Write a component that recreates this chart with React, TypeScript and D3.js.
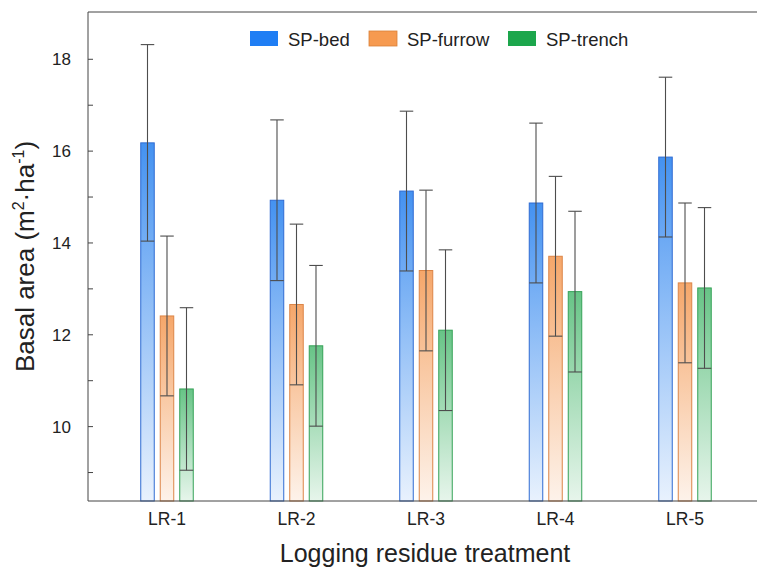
import React from "react"
import * as d3 from "d3"

// treatments and series
const categories = ["LR-1", "LR-2", "LR-3", "LR-4", "LR-5"]
const seriesNames = ["SP-bed", "SP-furrow", "SP-trench"]

// mean basal area (m2/ha) and error bar half-length
const bedMean = [16.18, 14.93, 15.13, 14.87, 15.87]
const bedErr = [2.14, 1.75, 1.74, 1.74, 1.74]
const furrowMean = [12.41, 12.66, 13.4, 13.71, 13.13]
const furrowErr = [1.74, 1.75, 1.75, 1.74, 1.74]
const trenchMean = [10.82, 11.76, 12.1, 12.94, 13.02]
const trenchErr = [1.77, 1.75, 1.75, 1.75, 1.75]

const majorTicks = [10, 12, 14, 16, 18]
const minorTicks = [9, 11, 13, 15, 17]

const W = 757
const H = 569
const left = 88
const right = 764
const top = 12
const bottom = 501

const barColors = [
  { top: "#3a8cf0", bottom: "#e6f0fd", stroke: "#2f6bd2", legend: "#1f7ef4" },
  { top: "#f5a262", bottom: "#fdf1e8", stroke: "#dc8547", legend: "#f69a50" },
  { top: "#5fc180", bottom: "#e4f4e9", stroke: "#35a257", legend: "#1ca64c" },
]
const legendX = [250, 369, 508]
const font = "'Liberation Sans', Arial, sans-serif"

export default function App() {
  const x = d3.scalePoint<string>().domain(categories).range([left, right]).padding(0.61)
  const y = d3.scaleLinear().domain([8.38, 19.03]).range([bottom, top])

  const means = [bedMean, furrowMean, trenchMean]
  const errs = [bedErr, furrowErr, trenchErr]
  const barW = 13.5
  const step = 19.5

  return (
    <svg width={W} height={H} style={{ position: "absolute", left: 0, top: 0 }} fontFamily={font}>
      <defs>
        {barColors.map((c, i) => (
          <linearGradient key={i} id={"grad" + i} x1="0" y1="0" x2="0" y2="1">
            <stop offset="0%" stopColor={c.top} stopOpacity={0.95} />
            <stop offset="100%" stopColor={c.bottom} stopOpacity={0.9} />
          </linearGradient>
        ))}
      </defs>
      <rect width={W} height={H} fill="#fff" />

      {/* bars */}
      {means.map((m, s) =>
        categories.map((c, i) => {
          const cx = (x(c) as number) + (s - 1) * step
          return (
            <rect
              key={s + "-" + c}
              x={cx - barW / 2}
              y={y(m[i])}
              width={barW}
              height={bottom - y(m[i])}
              fill={`url(#grad${s})`}
              stroke={barColors[s].stroke}
              strokeWidth={1}
            />
          )
        })
      )}

      {/* error bars */}
      {means.map((m, s) =>
        categories.map((c, i) => {
          const cx = (x(c) as number) + (s - 1) * step
          const hi = y(m[i] + errs[s][i])
          const lo = y(m[i] - errs[s][i])
          return (
            <g key={"e" + s + c} stroke="#4d4d4d" strokeWidth={1.1}>
              <line x1={cx} x2={cx} y1={hi} y2={lo} />
              <line x1={cx - barW / 2} x2={cx + barW / 2} y1={hi} y2={hi} />
              <line x1={cx - barW / 2} x2={cx + barW / 2} y1={lo} y2={lo} />
            </g>
          )
        })
      )}

      {/* frame */}
      <g stroke="#444" strokeWidth={1} fill="none">
        <line x1={left} x2={left} y1={top} y2={bottom} />
        <line x1={left} x2={right} y1={top} y2={top} />
        <line x1={left} x2={right} y1={bottom} y2={bottom} />
        {majorTicks.concat(minorTicks).map((t) => (
          <line key={t} x1={left} x2={left + 5} y1={y(t)} y2={y(t)} />
        ))}
      </g>

      {/* y tick labels */}
      {majorTicks.map((t) => (
        <text key={t} x={71} y={y(t)} dy="0.35em" textAnchor="end" fontSize={17} fill="#222">
          {t}
        </text>
      ))}

      {/* x labels */}
      {categories.map((c) => (
        <text key={c} x={x(c)} y={525} textAnchor="middle" fontSize={17.5} fill="#222">
          {c}
        </text>
      ))}

      <text x={(left + right) / 2 - 1} y={562} textAnchor="middle" fontSize={25} fill="#222">
        Logging residue treatment
      </text>

      <text transform={`translate(33.5,${(top + bottom) / 2}) rotate(-90)`} textAnchor="middle" fontSize={26} fill="#222">
        Basal area (m
        <tspan fontSize={16} dy={-10}>2</tspan>
        <tspan dy={10}>·ha</tspan>
        <tspan fontSize={16} dy={-10}>-1</tspan>
        <tspan dy={10}>)</tspan>
      </text>

      {/* legend */}
      {seriesNames.map((n, i) => (
        <g key={n} transform={`translate(${legendX[i]},31)`}>
          <rect width={28} height={15} fill={barColors[i].legend} stroke={i === 1 ? "#d98038" : "none"} strokeWidth={0.8} />
          <text x={38} y={14.5} fontSize={18.5} fill="#222">
            {n}
          </text>
        </g>
      ))}
    </svg>
  )
}
